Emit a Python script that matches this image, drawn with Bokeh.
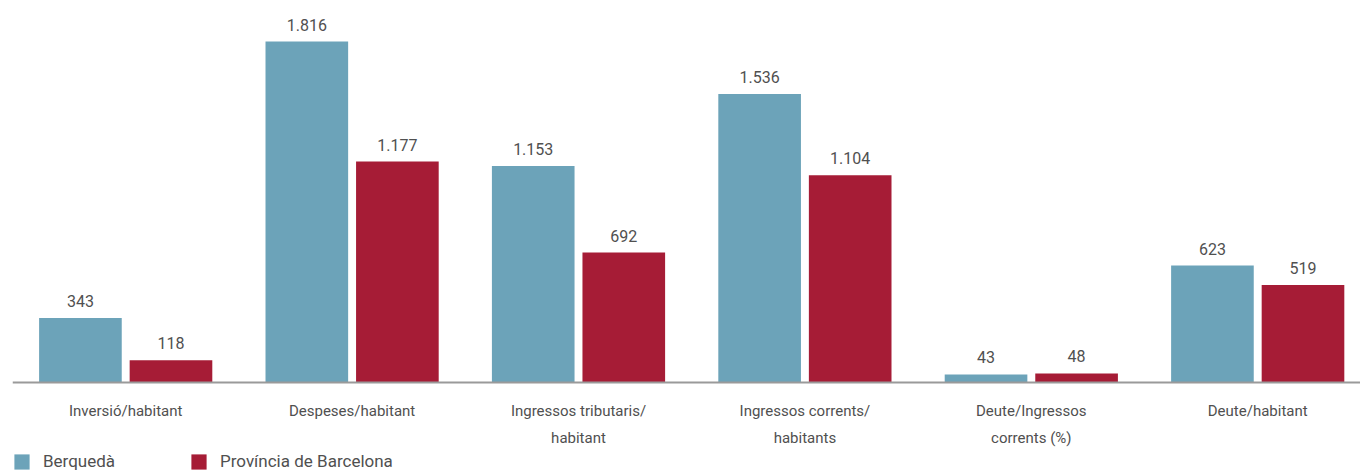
from bokeh.plotting import figure
from bokeh.models import ColumnDataSource, Range1d, Legend, LegendItem, Span
from bokeh.core.properties import value
from bokeh.embed import file_html
from bokeh.resources import INLINE

categories = ["Inversió/habitant", "Despeses/habitant", "Ingressos tributaris/\nhabitant",
              "Ingressos corrents/\nhabitants", "Deute/Ingressos\ncorrents (%)", "Deute/habitant"]
berguedà = [343, 1816, 1153, 1536, 43, 623]
provincia = [118, 1177, 692, 1104, 48, 519]
series_names = ["Berquedà", "Província de Barcelona"]
colors = ["#6CA3B9", "#A61C36"]

FONT = "Roboto"
TXT = "#505050"

def fmt(v):
    return f"{v:,}".replace(",", ".")

xs = list(range(len(categories)))
offsets = [-0.2, 0.2]

p = figure(frame_width=1348, frame_height=463, output_backend="svg", toolbar_location=None,
           x_range=Range1d(-0.5, 5.454), y_range=Range1d(-474, 1992),
           min_border_left=12, min_border_right=0, min_border_top=8, min_border_bottom=0,
           x_axis_location=None, y_axis_location=None, outline_line_color=None)
p.grid.visible = False

renderers = []
for vals, off, col in zip([berguedà, provincia], offsets, colors):
    src = ColumnDataSource(dict(x=[x + off for x in xs], top=vals,
                                label=[fmt(v) for v in vals]))
    r = p.vbar(x="x", top="top", width=0.365, source=src, color=col, line_color=None)
    renderers.append(r)
    p.text(x="x", y="top", text="label", source=src, text_align="center",
           text_baseline="alphabetic", y_offset=-17, text_color=TXT,
           text_font=value(FONT), text_font_size="16px")

# baseline axis line at zero
p.add_layout(Span(location=0, dimension="width", line_color="#9a9a9a", line_width=2))

# category labels under the baseline
cat_src = ColumnDataSource(dict(x=xs, y=[0] * len(xs), label=categories))
p.text(x="x", y="y", text="label", source=cat_src, text_align="center",
       text_baseline="top", y_offset=19, text_color=TXT, text_line_height=1.55,
       text_font=value(FONT), text_font_size="15px")

legend = Legend(items=[LegendItem(label=n, renderers=[r]) for n, r in zip(series_names, renderers)],
                orientation="horizontal", location=(0, 0),
                glyph_width=19, glyph_height=19, label_standoff=12, label_width=146,
                spacing=0, padding=0, margin=0, border_line_color=None,
                label_text_font=FONT, label_text_font_size="17px", label_text_color=TXT,
                label_height=19, background_fill_alpha=0)
p.add_layout(legend, "center")

open("out.html", "w").write(file_html(p, INLINE))
